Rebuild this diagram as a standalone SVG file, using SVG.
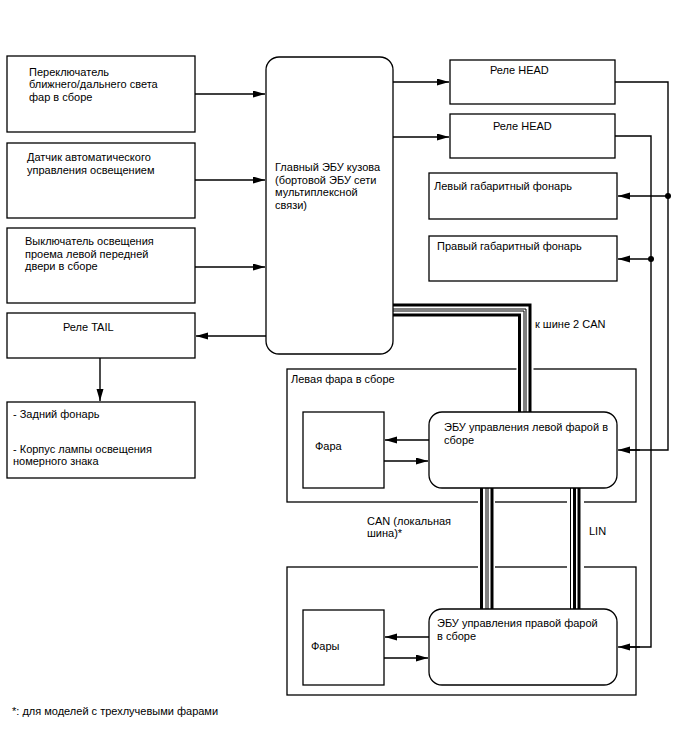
<svg xmlns="http://www.w3.org/2000/svg" width="688" height="755" viewBox="0 0 688 755">
<defs>
<marker id="ah" markerUnits="userSpaceOnUse" markerWidth="13" markerHeight="8" refX="12" refY="3.5" orient="auto"><path d="M0,0 L12,3.5 L0,7 z" fill="#000"/></marker>
<style>
.box{fill:#fff;stroke:#000;stroke-width:1.3}
.frame{fill:none;stroke:#000;stroke-width:1.3}
.t{font-family:"Liberation Sans",Arial,sans-serif;font-size:11px;fill:#000}
.ln{fill:none;stroke:#000;stroke-width:1.4}
.arr{fill:none;stroke:#000;stroke-width:1.4;marker-end:url(#ah)}
.halo{fill:none;stroke:#fff;stroke-width:17;stroke-linecap:butt}
.bk{fill:none;stroke:#000;stroke-width:3}
.bt{fill:none;stroke:#000;stroke-width:1}
</style>
</defs>
<rect width="688" height="755" fill="#fff"/>

<g id="left-assembly"><rect class="frame" x="287" y="369" width="349" height="133"/><text class="t" x="291" y="383">Левая фара в сборе</text></g>
<g id="right-assembly"><rect class="frame" x="287" y="567" width="349" height="128"/></g>

<g id="connectors">
<path class="arr" d="M195,94 H265"/>
<path class="arr" d="M195,180 H265"/>
<path class="arr" d="M195,267 H265"/>
<path class="arr" d="M266,336 H196"/>
<path class="arr" d="M100,358 V401"/>
<path class="arr" d="M393,82 H449"/>
<path class="arr" d="M393,137 H449"/>
<path class="ln" d="M615,82 H668 V450 H630"/>
<path class="arr" d="M640,450 H618"/>
<path class="ln" d="M615,136 H651 V647 H630"/>
<path class="arr" d="M640,647 H618"/>
<path class="arr" d="M668,196 H618"/>
<path class="arr" d="M651,259 H618"/>
<circle cx="668" cy="196" r="3"/>
<circle cx="651" cy="259" r="3"/>
<path class="arr" d="M429,440 H385"/>
<path class="arr" d="M384,461 H428"/>
<path class="arr" d="M429,637 H385"/>
<path class="arr" d="M384,658 H428"/>
<g id="can2-bus">
<path class="halo" d="M394,310 H525 V412"/>
<path class="bk" d="M393,305 H530 V412"/>
<path class="bt" d="M393,309 H526 V412"/>
<path class="bt" d="M393,311 H524 V412"/>
<path class="bk" d="M393,315 H519.5 V412"/>
</g>
<g id="can-local-bus">
<path class="halo" d="M486.5,489 V609"/>
<path class="bk" d="M481.5,488 V609"/>
<path class="bt" d="M486,488 V609"/>
<path class="bt" d="M488,488 V609"/>
<path class="bk" d="M492,488 V609"/>
</g>
<g id="lin-bus">
<path class="halo" d="M575.5,489 V609"/>
<path class="bt" d="M570.5,488 V609"/>
<path class="bk" d="M574.5,488 V609"/>
<path class="bk" d="M579,488 V609"/>
</g>
</g>

<g id="sw-headlight"><rect class="box" x="7" y="56" width="188" height="76"/><text class="t" x="29" y="75.5">Переключатель</text><text class="t" x="29" y="88">ближнего/дальнего света</text><text class="t" x="29" y="100.5">фар в сборе</text></g>
<g id="auto-sensor"><rect class="box" x="7" y="143" width="188" height="75"/><text class="t" x="27" y="161">Датчик автоматического</text><text class="t" x="27" y="173.5">управления освещением</text></g>
<g id="door-switch"><rect class="box" x="7" y="228" width="188" height="75"/><text class="t" x="25" y="245">Выключатель освещения</text><text class="t" x="25" y="257.5">проема левой передней</text><text class="t" x="25" y="270">двери в сборе</text></g>
<g id="tail-relay"><rect class="box" x="7" y="313" width="188" height="45"/><text class="t" x="63" y="331">Реле TAIL</text></g>
<g id="tail-lamps"><rect class="box" x="7" y="402" width="188" height="76"/><text class="t" x="13" y="418">- Задний фонарь</text><text class="t" x="13" y="452.5">- Корпус лампы освещения</text><text class="t" x="13" y="465">номерного знака</text></g>

<g id="main-ecu"><rect class="box" x="266" y="57" width="127" height="297" rx="13"/><text class="t" x="275" y="171">Главный ЭБУ кузова</text><text class="t" x="275" y="183.5">(бортовой ЭБУ сети</text><text class="t" x="275" y="196">мультиплексной</text><text class="t" x="275" y="208.5">связи)</text></g>

<g id="head-relay-1"><rect class="box" x="450" y="60" width="165" height="44"/><text class="t" x="490" y="74">Реле HEAD</text></g>
<g id="head-relay-2"><rect class="box" x="450" y="114" width="165" height="44"/><text class="t" x="493" y="130">Реле HEAD</text></g>
<g id="left-clearance"><rect class="box" x="429" y="173" width="188" height="46"/><text class="t" x="434" y="190">Левый габаритный фонарь</text></g>
<g id="right-clearance"><rect class="box" x="429" y="236" width="188" height="45"/><text class="t" x="437" y="250">Правый габаритный фонарь</text></g>

<g id="left-lamp"><rect class="box" x="303" y="412" width="81" height="76"/><text class="t" x="315" y="450">Фара</text></g>
<g id="left-ecu"><rect class="box" x="429" y="412" width="188" height="76" rx="13"/><text class="t" x="444" y="431">ЭБУ управления левой фарой в</text><text class="t" x="444" y="443.5">сборе</text></g>
<g id="right-lamp"><rect class="box" x="303" y="610" width="81" height="75"/><text class="t" x="311" y="650">Фары</text></g>
<g id="right-ecu"><rect class="box" x="429" y="609" width="188" height="76" rx="13"/><text class="t" x="437" y="627">ЭБУ управления правой фарой</text><text class="t" x="437" y="639.5">в сборе</text></g>

<g id="labels">
<text class="t" x="535" y="328">к шине 2 CAN</text>
<text class="t" x="367" y="524.5">CAN (локальная</text>
<text class="t" x="367" y="537">шина)*</text>
<text class="t" x="589" y="535">LIN</text>
<text class="t" x="12" y="714.5">*: для моделей с трехлучевыми фарами</text>
</g>
</svg>
